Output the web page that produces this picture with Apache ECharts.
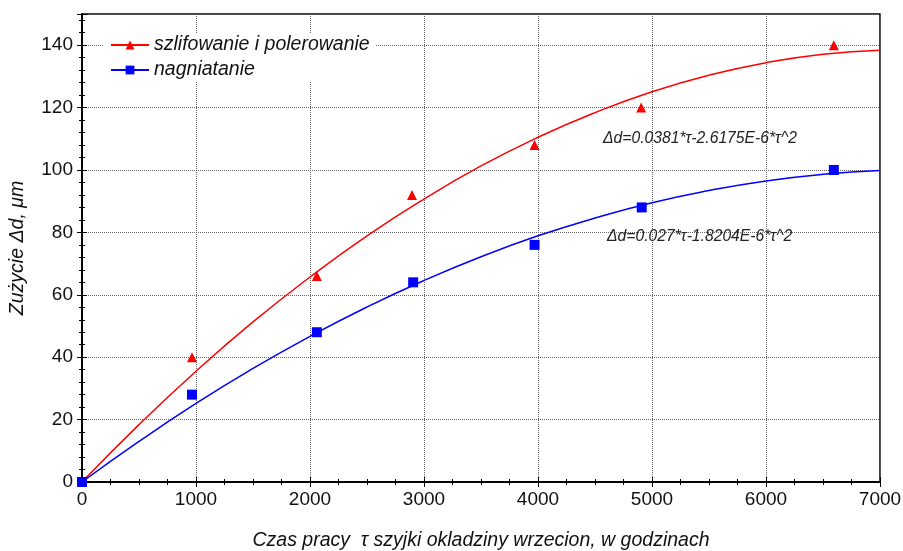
<!DOCTYPE html>
<html>
<head>
<meta charset="utf-8">
<script src="https://cdn.jsdelivr.net/npm/echarts@6/dist/echarts.min.js"></script>
<style>
	html, body { margin: 0; padding: 0; background: #fff; }
	#chart { width: 903px; height: 551px; }
</style>
</head>
<body>
<div id="chart"></div>
<script>
// measured points
const redPoints = [[0, 0], [965, 40], [2060, 66], [2895, 92], [3970, 108], [4905, 120], [6595, 140]];
const bluePoints = [[0, 0], [965, 28], [2060, 48], [2905, 64], [3970, 76], [4910, 88], [6595, 100]];

// fitted curves
const curveX = [0, 500, 1000, 1500, 2000, 2500, 3000, 3500, 4000, 4500, 5000, 5500, 6000, 6500, 7000];
const redCurve = [0, 18.4, 35.5, 51.3, 65.7, 78.9, 90.7, 101.3, 110.5, 118.4, 125.1, 130.4, 134.4, 137.1, 138.4];
const blueCurve = [0, 13.0, 25.2, 36.4, 46.7, 56.1, 64.6, 72.2, 78.9, 84.6, 89.5, 93.4, 96.5, 98.6, 99.8];

const names = ['szlifowanie i polerowanie', 'nagniatanie'];
const redLabel = 'Δd=0.0381*τ-2.6175E-6*τ^2';
const blueLabel = 'Δd=0.027*τ-1.8204E-6*τ^2';

const FONT = '"Liberation Sans", Arial, sans-serif';

function zip(xs, ys) {
	return xs.map((x, i) => [x, ys[i]]);
}

function axisBase(extra) {
	return Object.assign({
		type: 'value',
		axisLine: { show: true, lineStyle: { color: '#000', width: 1.5 } },
		axisTick: { show: true, inside: true, length: 5, lineStyle: { color: '#000' } },
		minorTick: { show: true, length: 3, lineStyle: { color: '#000' } },
		splitLine: { show: false },
		axisLabel: { show: false }
	}, extra);
}

const chart = echarts.init(document.getElementById('chart'));

chart.setOption({
	animation: false,
	backgroundColor: '#fff',
	grid: {
		left: 82, right: 23, top: 14, bottom: 69, outerBoundsMode: 'none',
		show: true, borderColor: '#000', borderWidth: 1.5
	},
	xAxis: [
		axisBase({
			min: 0, max: 7000, interval: 1000,
			minorTick: { show: true, splitNumber: 4, length: 3, lineStyle: { color: '#000' } },
			axisLabel: { show: true, color: '#111', fontSize: 19, fontFamily: FONT, margin: 8, formatter: v => String(v) },
			splitLine: { show: true, lineStyle: { color: '#666', type: [1, 1], width: 1 } },
			name: 'Czas pracy  τ szyjki okladziny wrzecion, w godzinach',
			nameLocation: 'middle', nameGap: 49,
			nameTextStyle: { color: '#111', fontSize: 19.5, fontStyle: 'italic', fontFamily: FONT }
		}),
		axisBase({
			position: 'top', min: 0, max: 7000, interval: 1000,
			minorTick: { show: true, splitNumber: 4, length: 3, lineStyle: { color: '#000' } }
		})
	],
	yAxis: [
		axisBase({
			min: 0, max: 150, interval: 20,
			minorTick: { show: true, splitNumber: 5, length: 3, lineStyle: { color: '#000' } },
			axisLabel: { show: true, showMaxLabel: false, color: '#111', fontSize: 19, fontFamily: FONT, margin: 9 },
			splitLine: { show: true, lineStyle: { color: '#666', type: [1, 1], width: 1 } },
			name: 'Zużycie Δd, μm',
			nameLocation: 'middle', nameGap: 54,
			nameTextStyle: { color: '#111', fontSize: 19.5, fontStyle: 'italic', fontFamily: FONT }
		}),
		axisBase({
			position: 'right', min: 0, max: 150, interval: 20,
			minorTick: { show: true, splitNumber: 5, length: 3, lineStyle: { color: '#000' } }
		})
	],
	legend: {
		left: 104, top: 33, orient: 'vertical', itemGap: 5,
		itemWidth: 38, itemHeight: 11,
		backgroundColor: '#fff', padding: [2, 6, 2, 6],
		data: names,
		textStyle: { color: '#111', fontSize: 19.5, fontStyle: 'italic', fontFamily: FONT }
	},
	series: [
		{
			name: names[0], type: 'line', data: zip(curveX, redCurve), smooth: true,
			symbol: 'triangle', symbolSize: 10, showSymbol: false,
			lineStyle: { color: '#ff0000', width: 1.5 }, itemStyle: { color: '#ff0000' }, z: 3
		},
		{
			name: names[1], type: 'line', data: zip(curveX, blueCurve), smooth: true,
			symbol: 'rect', symbolSize: 10, showSymbol: false,
			lineStyle: { color: '#0000ff', width: 1.5 }, itemStyle: { color: '#0000ff' }, z: 3
		},
		{
			name: names[0], type: 'scatter', data: redPoints,
			symbol: 'triangle', symbolSize: 10, itemStyle: { color: '#ff0000', opacity: 1 }, z: 4
		},
		{
			name: names[1], type: 'scatter', data: bluePoints,
			symbol: 'rect', symbolSize: 10, itemStyle: { color: '#0000ff', opacity: 1 }, z: 4
		}
	],
	graphic: [
		{
			type: 'text', left: 603, top: 131, z: 10,
			style: { text: redLabel, fill: '#222', font: 'italic 15.7px ' + FONT }
		},
		{
			type: 'text', left: 607, top: 229, z: 10,
			style: { text: blueLabel, fill: '#222', font: 'italic 15.7px ' + FONT }
		}
	]
});

window.addEventListener('resize', () => chart.resize());
</script>
</body>
</html>
